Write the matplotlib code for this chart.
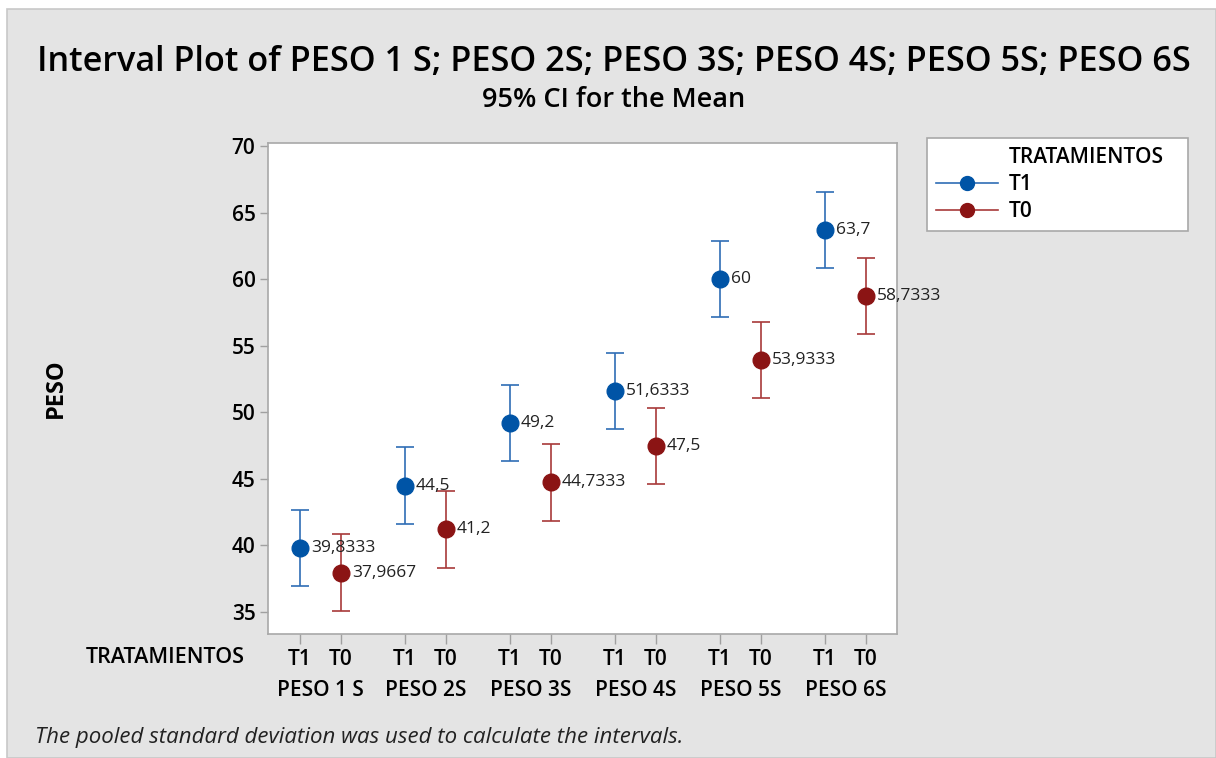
import numpy as np
import matplotlib.pyplot as plt
from matplotlib.patches import Rectangle
from matplotlib.lines import Line2D

plt.rcParams['font.family'] = ['Open Sans', 'DejaVu Sans']

# data
groups = ["PESO 1 S", "PESO 2S", "PESO 3S", "PESO 4S", "PESO 5S", "PESO 6S"]
trat = ["T1", "T0"]
mean_t1 = [39.8333, 44.5, 49.2, 51.6333, 60, 63.7]
mean_t0 = [37.9667, 41.2, 44.7333, 47.5, 53.9333, 58.7333]
ci_half = 2.86  # pooled sd -> same half width

blue = '#0054a6'
blue_line = '#2f6db5'
red = '#8b1414'
red_line = '#a83a3a'
bg = '#e4e4e4'

fig = plt.figure(figsize=(12.16, 7.58), dpi=100)
fig.patch.set_facecolor('white')
fig.patches.append(Rectangle((7 / 1216, 0), 1 - 7 / 1216, 1 - 9 / 758, transform=fig.transFigure,
                             facecolor=bg, edgecolor='#c8c8c8', lw=1.2, zorder=-10))

ax = fig.add_axes([268 / 1216, 1 - 634 / 758, (897 - 268) / 1216, (634 - 143) / 758])
ax.set_facecolor('white')

gap = 2.56
x_t1 = np.arange(len(groups)) * gap
x_t0 = x_t1 + 1

def fmt(v):
    s = ('%.4f' % v).rstrip('0').rstrip('.')
    return s.replace('.', ',')

for xs, ys, mc, lc in [(x_t1, mean_t1, blue, blue_line), (x_t0, mean_t0, red, red_line)]:
    ax.errorbar(xs, ys, yerr=ci_half, fmt='none', ecolor=lc, elinewidth=1.2,
                capsize=6.5, capthick=1.2, zorder=2)
    ax.plot(xs, ys, 'o', color=mc, markersize=12, zorder=3, linestyle='none')
    for x, y in zip(xs, ys):
        ax.annotate(fmt(y), (x, y), xytext=(8, 0), textcoords='offset points',
                    va='center', ha='left', fontsize=12.5, color='#222222', zorder=4)

ax.set_xlim(-0.78, 14.56)
ax.set_ylim(33.35, 70.23)
ax.set_yticks([35, 40, 45, 50, 55, 60, 65, 70])
ax.set_yticklabels(['35', '40', '45', '50', '55', '60', '65', '70'],
                   fontsize=15, fontweight='semibold')

xt = np.sort(np.concatenate([x_t1, x_t0]))
ax.set_xticks(xt)
ax.set_xticklabels(trat * len(groups), fontsize=15, fontweight='semibold')
ax.tick_params(axis='x', length=7, pad=4, color='#a0a0a0', width=1)
ax.tick_params(axis='y', length=6, pad=3, color='#a0a0a0', width=1)
for sp in ax.spines.values():
    sp.set_color('#a8a8a8')
    sp.set_linewidth(1.2)

# group labels below the treatment labels
for g, x1, x0 in zip(groups, x_t1, x_t0):
    ax.text((x1 + x0) / 2, -0.115, g, transform=ax.get_xaxis_transform(),
            ha='center', va='center', fontsize=15, fontweight='semibold', color='black')
ax.text(-0.0366, -0.048, 'TRATAMIENTOS', transform=ax.transAxes, ha='right', va='center',
        fontsize=15.5, fontweight='semibold')

ax.set_ylabel('PESO', fontsize=17, fontweight='bold')
ax.yaxis.set_label_coords(-0.318, 0.5)

fig.text(614 / 1216, 1 - 62 / 758, 'Interval Plot of PESO 1 S; PESO 2S; PESO 3S; PESO 4S; PESO 5S; PESO 6S',
         ha='center', va='center', fontsize=24.7, fontweight='semibold')
fig.text(614 / 1216, 1 - 100 / 758, '95% CI for the Mean', ha='center', va='center',
         fontsize=19.5, fontweight='semibold')
fig.text(35 / 1216, 1 - 738 / 758, 'The pooled standard deviation was used to calculate the intervals.',
         ha='left', va='center', fontsize=16, style='italic', color='#222222')

# legend
handles = [Line2D([], [], linestyle='none'),
           Line2D([], [], color=blue_line, lw=1.2, marker='o', markersize=10,
                  markerfacecolor=blue, markeredgecolor=blue),
           Line2D([], [], color=red_line, lw=1.2, marker='o', markersize=10,
                  markerfacecolor=red, markeredgecolor=red)]
leg = fig.legend(handles, ['TRATAMIENTOS', 'T1', 'T0'], loc='upper left',
                 bbox_to_anchor=(927 / 1216, 1 - 138 / 758, (1188 - 927) / 1216, 0.0),
                 mode='expand', fancybox=False, framealpha=1, edgecolor='#a8a8a8',
                 handlelength=3.0, handletextpad=0.5, labelspacing=0.3, borderpad=0.42,
                 borderaxespad=0, prop={'size': 15, 'weight': 'semibold'})
leg.get_frame().set_linewidth(1.2)

fig.savefig('out.png', dpi=100, facecolor=fig.get_facecolor())
